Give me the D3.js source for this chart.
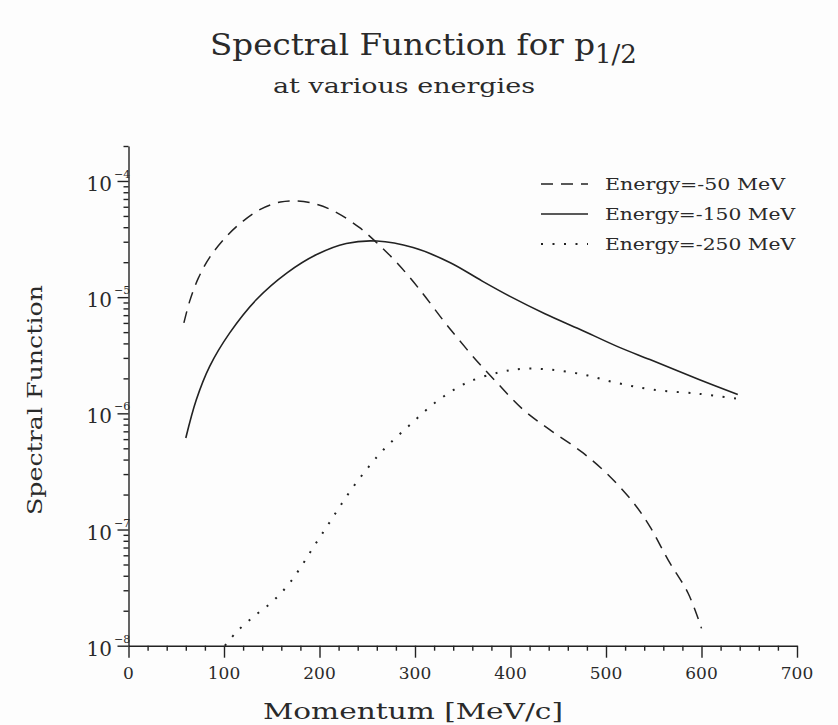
<!DOCTYPE html>
<html>
<head>
<meta charset="utf-8">
<script src="https://cdn.jsdelivr.net/npm/d3@7"></script>
<style>
  html, body { margin: 0; padding: 0; background: #fdfdfd; }
  svg { display: block; }
  text { font-family: "DejaVu Serif", "Liberation Serif", serif; fill: #2a2a2a; }
</style>
</head>
<body>
<svg id="chart" width="838" height="725"></svg>
<script>
// ---- Data ----
const seriesNames = ["Energy=-50 MeV", "Energy=-150 MeV", "Energy=-250 MeV"];

const momentum50 = [58, 64, 73, 85, 103, 120, 138, 159, 176, 197, 218, 242, 260, 281, 305, 329, 340, 365, 386, 413, 441, 476, 504, 529, 546, 565, 586, 600];
const values50 = [6.0e-6, 9.2e-6, 1.45e-5, 2.2e-5, 3.36e-5, 4.52e-5, 5.70e-5, 6.59e-5, 6.73e-5, 6.30e-5, 5.34e-5, 3.96e-5, 2.94e-5, 1.98e-5, 1.16e-5, 6.4e-6, 4.93e-6, 2.81e-6, 1.83e-6, 1.08e-6, 7.24e-7, 4.56e-7, 2.86e-7, 1.69e-7, 1.06e-7, 5.48e-8, 2.83e-8, 1.41e-8];

const momentum150 = [60, 71, 85, 106, 134, 166, 197, 228, 260, 298, 337, 370, 400, 436, 473, 511, 546, 598, 638];
const values150 = [6.14e-7, 1.31e-6, 2.54e-6, 4.93e-6, 9.55e-6, 1.62e-5, 2.33e-5, 2.90e-5, 3.04e-5, 2.67e-5, 1.98e-5, 1.38e-5, 1.01e-5, 7.2e-6, 5.27e-6, 3.79e-6, 2.90e-6, 1.95e-6, 1.45e-6];

const momentum250 = [101, 113, 131, 151, 168, 182, 195, 209, 222, 236, 251, 267, 295, 323, 354, 389, 413, 441, 476, 511, 549, 598, 637];
const values250 = [1.0e-8, 1.31e-8, 1.78e-8, 2.41e-8, 3.40e-8, 4.97e-8, 7.34e-8, 1.10e-7, 1.61e-7, 2.37e-7, 3.42e-7, 4.86e-7, 8.0e-7, 1.27e-6, 1.83e-6, 2.26e-6, 2.42e-6, 2.38e-6, 2.16e-6, 1.83e-6, 1.60e-6, 1.47e-6, 1.34e-6];

const xMajorTicks = [0, 100, 200, 300, 400, 500, 600, 700];
const yMajorTicks = [1e-8, 1e-7, 1e-6, 1e-5, 1e-4];
const yTickExponents = ["-8", "-7", "-6", "-5", "-4"];

// ---- Layout ----
const svg = d3.select("#chart");
const ink = "#222";

const x = d3.scaleLinear().domain([0, 700]).range([128.5, 797]);
const y = d3.scaleLog().domain([1e-8, 2e-4]).range([645.7, 146]);

// minor ticks
const xMinor = d3.range(0, 701, 20).filter(v => v % 100 !== 0);
const yMinor = [];
for (let e = -8; e <= -5; e++) for (let m = 2; m <= 9; m++) yMinor.push(m * Math.pow(10, e));
yMinor.push(2e-4);

// ---- Axes ----
const gx = svg.append("g").attr("transform", `translate(0,${y(1e-8)})`);
gx.call(d3.axisBottom(x).tickValues(xMajorTicks).tickSize(12).tickSizeOuter(0).tickFormat(""));
const gxm = svg.append("g").attr("transform", `translate(0,${y(1e-8)})`);
gxm.call(d3.axisBottom(x).tickValues(xMinor).tickSize(5).tickSizeOuter(0).tickFormat(""));
gxm.select(".domain").remove();

const gy = svg.append("g").attr("transform", `translate(${x(0)},0)`);
gy.call(d3.axisLeft(y).tickValues(yMajorTicks).tickSize(11).tickSizeOuter(0).tickFormat(""));
const gym = svg.append("g").attr("transform", `translate(${x(0)},0)`);
gym.call(d3.axisLeft(y).tickValues(yMinor).tickSize(5).tickSizeOuter(0).tickFormat(""));
gym.select(".domain").remove();

svg.selectAll(".domain, .tick line").attr("stroke", ink).attr("stroke-width", 1.4);

// x tick labels
svg.append("g").selectAll("text").data(xMajorTicks).join("text")
  .attr("x", d => x(d)).attr("y", 679)
  .attr("text-anchor", "middle")
  .attr("font-size", 17)
  .text(d => d);

// y tick labels 10^n
const yl = svg.append("g").selectAll("g").data(yMajorTicks).join("g");
yl.append("text")
  .attr("x", 112).attr("y", d => y(d) + 10)
  .attr("text-anchor", "end")
  .attr("font-size", 20)
  .text("10");
yl.append("text")
  .attr("x", 114).attr("y", (d) => y(d) - 3)
  .attr("font-size", 11)
  .text((d, i) => "\u2212" + yTickExponents[i].slice(1));

// ---- Lines ----
const line = d3.line().x(d => x(d[0])).y(d => y(d[1])).curve(d3.curveCatmullRom.alpha(0.5));
const styles = [
  { dash: "12,8", width: 1.5 },
  { dash: null, width: 1.6 },
  { dash: "2,9.5", width: 2 }
];
const series = [
  d3.zip(momentum50, values50),
  d3.zip(momentum150, values150),
  d3.zip(momentum250, values250)
];
series.forEach((s, i) => {
  svg.append("path").datum(s)
    .attr("d", line)
    .attr("fill", "none")
    .attr("stroke", ink)
    .attr("stroke-width", styles[i].width)
    .attr("stroke-dasharray", styles[i].dash);
});

// ---- Legend ----
const legendY = [184, 214, 244];
const legendLen = [180, 190, 190];
seriesNames.forEach((name, i) => {
  svg.append("line")
    .attr("x1", 541).attr("x2", 588)
    .attr("y1", legendY[i]).attr("y2", legendY[i])
    .attr("stroke", ink)
    .attr("stroke-width", styles[i].width)
    .attr("stroke-dasharray", styles[i].dash);
  svg.append("text")
    .attr("x", 605).attr("y", legendY[i] + 6)
    .attr("font-size", 16)
    .attr("textLength", legendLen[i]).attr("lengthAdjust", "spacingAndGlyphs")
    .text(name);
});

// ---- Titles ----
const title = svg.append("text")
  .attr("x", 210).attr("y", 55)
  .attr("font-size", 29);
title.append("tspan").text("Spectral Function for p")
  .attr("textLength", 385).attr("lengthAdjust", "spacingAndGlyphs");
title.append("tspan").attr("dy", 8).attr("font-size", 26).text("1/2");

svg.append("text")
  .attr("x", 273).attr("y", 93)
  .attr("font-size", 20)
  .attr("textLength", 262).attr("lengthAdjust", "spacingAndGlyphs")
  .text("at various energies");

svg.append("text")
  .attr("x", 263).attr("y", 719)
  .attr("font-size", 22)
  .attr("textLength", 300).attr("lengthAdjust", "spacingAndGlyphs")
  .text("Momentum [MeV/c]");

svg.append("text")
  .attr("transform", "translate(42,400) rotate(-90)")
  .attr("text-anchor", "middle")
  .attr("font-size", 21)
  .attr("textLength", 230).attr("lengthAdjust", "spacingAndGlyphs")
  .text("Spectral Function");
</script>
</body>
</html>
